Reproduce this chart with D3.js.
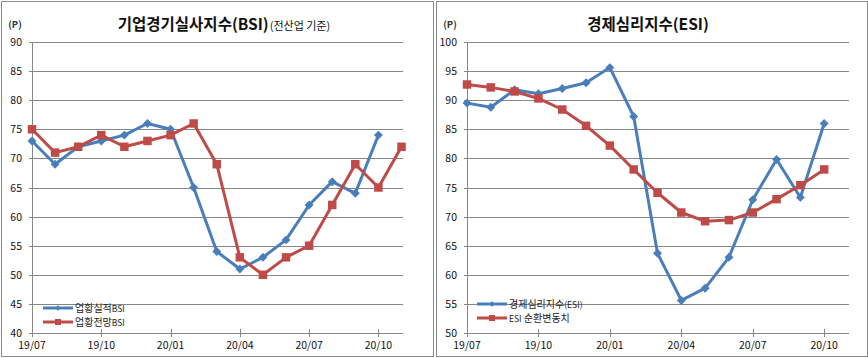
<!DOCTYPE html>
<html>
<head>
<meta charset="utf-8">
<script src="https://cdn.jsdelivr.net/npm/d3@7"></script>
<style>
  body { margin: 0; background: #fff; }
  svg { display: block; font-family: 'Noto Sans CJK KR', 'Noto Sans', sans-serif; }
</style>
</head>
<body>
<div class="chart"></div>
<script>
const months = ['19/07', '19/08', '19/09', '19/10', '19/11', '19/12', '20/01', '20/02', '20/03',
  '20/04', '20/05', '20/06', '20/07', '20/08', '20/09', '20/10', '20/11']
const tickMonths = ['19/07', '19/10', '20/01', '20/04', '20/07', '20/10']

// BSI (left)
const bsiActual = [73, 69, 72, 73, 74, 76, 75, 65, 54, 51, 53, 56, 62, 66, 64, 74]
const bsiOutlook = [75, 71, 72, 74, 72, 73, 74, 76, 69, 53, 50, 53, 55, 62, 69, 65, 72]
const bsiTicks = [40, 45, 50, 55, 60, 65, 70, 75, 80, 85, 90]

// ESI (right)
const esi = [89.5, 88.8, 91.8, 91.1, 92.0, 93.0, 95.6, 87.2, 63.7, 55.6, 57.7, 63.0, 72.9, 79.8, 73.3, 86.0]
const esiCycle = [92.7, 92.2, 91.5, 90.3, 88.4, 85.6, 82.2, 78.1, 74.1, 70.7, 69.2, 69.4, 70.7, 73.0, 75.4, 78.1]
const esiTicks = [50, 55, 60, 65, 70, 75, 80, 85, 90, 95, 100]

const blue = '#4a7ebb'
const red = '#be4b48'
const gridColor = '#878787'

const svg = d3.select('.chart').append('svg')
  .attr('width', 868)
  .attr('height', 358)

// excel style diamond (square rotated)
const diamond = {
  draw (ctx, size) {
    const r = Math.sqrt(size) / 2
    ctx.moveTo(0, -r)
    ctx.lineTo(r, 0)
    ctx.lineTo(0, r)
    ctx.lineTo(-r, 0)
    ctx.closePath()
  }
}

function drawPanel (cfg) {
  const g = svg.append('g')

  // frame
  g.append('rect')
    .attr('x', cfg.frame[0] + 0.5).attr('y', 1.5)
    .attr('width', cfg.frame[1] - cfg.frame[0]).attr('height', 355)
    .attr('fill', 'none').attr('stroke', '#8a8a8a')

  const x = d3.scalePoint().domain(months).range([cfg.x0, cfg.x1])
  const y = d3.scaleLinear().domain(cfg.domain).range([333, 42])

  // gridlines
  g.selectAll('.grid')
    .data(cfg.yTicks.slice(1))
    .enter().append('line')
    .attr('x1', cfg.x0 - 3).attr('x2', cfg.axisEnd)
    .attr('y1', d => Math.round(y(d)) + 0.5).attr('y2', d => Math.round(y(d)) + 0.5)
    .attr('stroke', gridColor)

  // axes
  g.append('line')
    .attr('x1', cfg.x0 + 0.5).attr('x2', cfg.x0 + 0.5)
    .attr('y1', 42).attr('y2', 333)
    .attr('stroke', gridColor)
  g.append('line')
    .attr('x1', cfg.x0 - 3).attr('x2', cfg.axisEnd)
    .attr('y1', 333.5).attr('y2', 333.5)
    .attr('stroke', gridColor)

  g.selectAll('.ylab')
    .data(cfg.yTicks)
    .enter().append('text')
    .attr('x', cfg.x0 - 10)
    .attr('y', d => y(d) + 4)
    .attr('text-anchor', 'end')
    .attr('font-size', '10.5px')
    .attr('fill', '#111')
    .text(d => d)

  g.append('text')
    .attr('x', cfg.x0 - 17).attr('y', 28)
    .attr('text-anchor', 'middle')
    .attr('font-size', '9.5px')
    .attr('font-weight', 'bold')
    .attr('fill', '#333')
    .text('(P)')

  // x ticks + labels
  g.selectAll('.xtick')
    .data(tickMonths)
    .enter().append('line')
    .attr('x1', d => Math.round(x(d)) + 0.5).attr('x2', d => Math.round(x(d)) + 0.5)
    .attr('y1', 329).attr('y2', 337)
    .attr('stroke', gridColor)
  g.selectAll('.xlab')
    .data(tickMonths)
    .enter().append('text')
    .attr('x', d => x(d))
    .attr('y', 349)
    .attr('text-anchor', 'middle')
    .attr('font-size', '10.5px')
    .attr('fill', '#111')
    .text(d => d)

  // title
  const title = g.append('text')
    .attr('x', cfg.titleX).attr('y', 30)
    .attr('text-anchor', 'middle')
    .attr('fill', '#111')
  title.append('tspan').attr('font-size', '15.5px').attr('font-weight', 'bold').text(cfg.title)
  if (cfg.subtitle) {
    title.append('tspan').attr('font-size', '11px').attr('dx', 1).text(cfg.subtitle)
  }

  const line = d3.line()
    .x((d, i) => x(months[i]))
    .y(d => y(d))

  cfg.series.forEach((s, k) => {
    g.append('path')
      .datum(s.values)
      .attr('d', line)
      .attr('fill', 'none')
      .attr('stroke', s.color)
      .attr('stroke-width', 3)
      .attr('stroke-linejoin', 'round')

    const sym = d3.symbol().type(s.square ? d3.symbolSquare : diamond).size(s.square ? 72 : 80)
    g.selectAll('.m' + k)
      .data(s.values)
      .enter().append('path')
      .attr('d', sym)
      .attr('transform', (d, i) => 'translate(' + x(months[i]) + ',' + y(d) + ')')
      .attr('fill', s.color)

    // legend
    const ly = cfg.legendY + k * 14
    g.append('line')
      .attr('x1', cfg.legendX).attr('x2', cfg.legendX + 30)
      .attr('y1', ly).attr('y2', ly)
      .attr('stroke', s.color).attr('stroke-width', 3)
    g.append('path')
      .attr('d', d3.symbol().type(s.square ? d3.symbolSquare : diamond).size(s.square ? 36 : 30))
      .attr('transform', 'translate(' + (cfg.legendX + 15) + ',' + ly + ')')
      .attr('fill', s.color)
    const lt = g.append('text')
      .attr('x', cfg.legendX + 32).attr('y', ly + 4)
      .attr('fill', '#222')
    s.label.forEach(part => {
      lt.append('tspan').attr('font-size', part[1]).text(part[0])
    })
  })
}

drawPanel({
  frame: [1, 433],
  x0: 32, x1: 401.5, axisEnd: 403,
  domain: [40, 90],
  yTicks: bsiTicks,
  titleX: 224,
  title: '기업경기실사지수(BSI)',
  subtitle: '(전산업 기준)',
  legendX: 43, legendY: 308,
  series: [
    { values: bsiActual, color: blue, square: false, label: [['업황실적', '10px'], ['BSI', '8.5px']] },
    { values: bsiOutlook, color: red, square: true, label: [['업황전망', '10px'], ['BSI', '8.5px']] }
  ]
})

drawPanel({
  frame: [436, 867],
  x0: 467, x1: 848, axisEnd: 849,
  domain: [50, 100],
  yTicks: esiTicks,
  titleX: 648,
  title: '경제심리지수(ESI)',
  subtitle: null,
  legendX: 477, legendY: 304,
  series: [
    { values: esi, color: blue, square: false, label: [['경제심리지수', '10px'], ['(ESI)', '8.5px']] },
    { values: esiCycle, color: red, square: true, label: [['ESI', '8.5px'], [' 순환변동치', '10px']] }
  ]
})
</script>
</body>
</html>
